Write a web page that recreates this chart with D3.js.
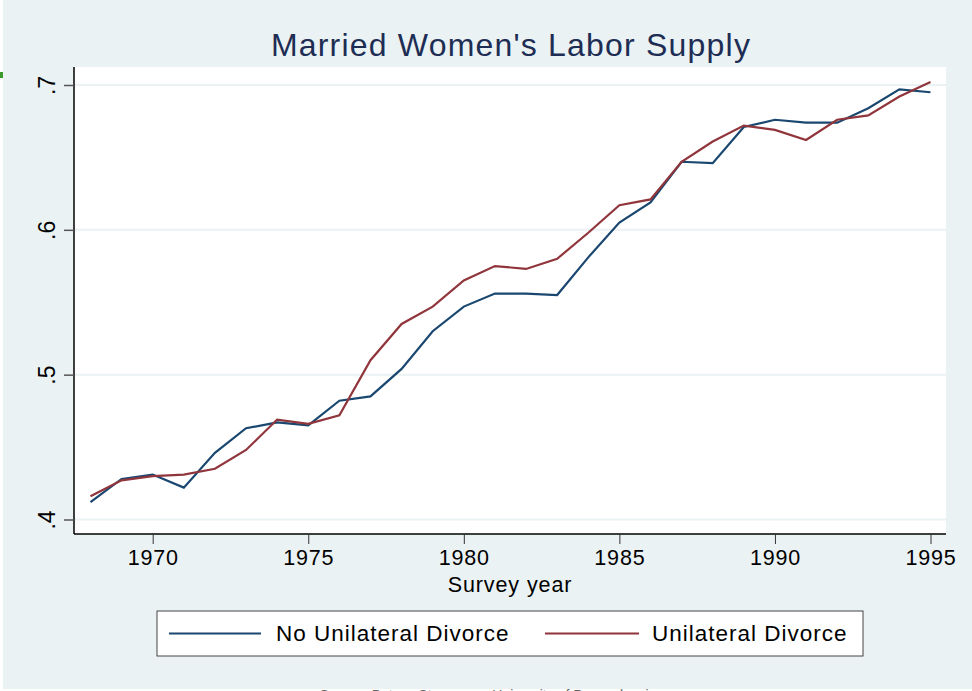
<!DOCTYPE html>
<html>
<head>
    <title>Married Women's Labor Supply</title>
    <script src="https://d3js.org/d3.v7.min.js"></script>
    <style>
        body { margin: 0; background: white; }
        svg { display: block; font-family: "Liberation Sans", Arial, sans-serif; }
    </style>
</head>
<body>
    <svg width="972" height="691"></svg>

    <script>
        // Survey years and the two series (share of married women working)
        const years = [1968, 1969, 1970, 1971, 1972, 1973, 1974, 1975, 1976, 1977, 1978, 1979, 1980, 1981,
                       1982, 1983, 1984, 1985, 1986, 1987, 1988, 1989, 1990, 1991, 1992, 1993, 1994, 1995];
        const noUnilateral = [0.412, 0.428, 0.431, 0.422, 0.446, 0.463, 0.467, 0.465, 0.482, 0.485, 0.504, 0.530, 0.547, 0.556,
                              0.556, 0.555, 0.581, 0.605, 0.619, 0.647, 0.646, 0.671, 0.676, 0.674, 0.674, 0.684, 0.697, 0.695];
        const unilateral = [0.416, 0.427, 0.430, 0.431, 0.435, 0.448, 0.469, 0.466, 0.472, 0.510, 0.535, 0.547, 0.565, 0.575,
                            0.573, 0.580, 0.598, 0.617, 0.621, 0.647, 0.661, 0.672, 0.669, 0.662, 0.676, 0.679, 0.692, 0.702];
        const xTicks = [1970, 1975, 1980, 1985, 1990, 1995];
        const yTicks = [0.4, 0.5, 0.6, 0.7];
        const yTickLabels = [".4", ".5", ".6", ".7"];
        const seriesNames = ["No Unilateral Divorce", "Unilateral Divorce"];

        const bg = "#eaf2f3";
        const blue = "#1a476f";
        const red = "#90353b";

        const svg = d3.select("svg");

        // outer background
        svg.append("rect").attr("x", 3).attr("y", 0).attr("width", 969).attr("height", 689).attr("fill", bg);
        svg.append("rect").attr("x", 0).attr("y", 72).attr("width", 3).attr("height", 6).attr("fill", "#3a9a2a");

        // plot region
        const plot = { left: 74, top: 67, right: 946, bottom: 534 };
        svg.append("rect")
            .attr("x", plot.left).attr("y", plot.top)
            .attr("width", plot.right - plot.left).attr("height", plot.bottom - plot.top)
            .attr("fill", "white");

        const x = d3.scaleLinear().domain([1970, 1995]).range([152.7, 930.5]);
        const y = d3.scaleLinear().domain([0.4, 0.7]).range([519.5, 85]);

        // gridlines
        svg.append("g").selectAll("line").data(yTicks).join("line")
            .attr("x1", plot.left).attr("x2", plot.right)
            .attr("y1", d => y(d)).attr("y2", d => y(d))
            .attr("stroke", bg).attr("stroke-width", 2);

        // series lines
        const line = d3.line().x((d, i) => x(years[i])).y(d => y(d));
        [[noUnilateral, blue], [unilateral, red]].forEach(([vals, col]) => {
            svg.append("path")
                .datum(vals)
                .attr("fill", "none")
                .attr("stroke", col)
                .attr("stroke-width", 2.2)
                .attr("d", line);
        });

        // y axis
        const yAxis = svg.append("g")
            .attr("transform", `translate(${plot.left},0)`)
            .call(d3.axisLeft(y).tickValues(yTicks).tickSize(10).tickFormat((d, i) => yTickLabels[i]));
        yAxis.select(".domain").attr("d", `M0,${plot.top}V${plot.bottom}`).attr("stroke", "black").attr("stroke-width", 1.5);
        yAxis.selectAll(".tick line").attr("stroke", "#555").attr("stroke-width", 1.5);
        yAxis.selectAll(".tick text")
            .attr("x", null).attr("dy", null)
            .attr("transform", "translate(-27,0) rotate(-90)")
            .attr("text-anchor", "middle")
            .attr("dy", "0.35em")
            .attr("font-size", 23)
            .attr("font-family", "Liberation Sans, Arial, sans-serif")
            .attr("fill", "black");

        // x axis
        const xAxis = svg.append("g")
            .attr("transform", `translate(0,${plot.bottom})`)
            .call(d3.axisBottom(x).tickValues(xTicks).tickSize(10).tickFormat(d3.format("d")));
        xAxis.select(".domain").attr("d", `M${plot.left},0H${plot.right}`).attr("stroke", "black").attr("stroke-width", 1.5);
        xAxis.selectAll(".tick line").attr("stroke", "#333").attr("stroke-width", 1);
        xAxis.selectAll(".tick text")
            .attr("y", 16)
            .attr("dy", "0.71em")
            .attr("font-size", 21.5)
            .attr("letter-spacing", 0.8)
            .attr("font-family", "Liberation Sans, Arial, sans-serif")
            .attr("fill", "black");

        // titles
        svg.append("text")
            .attr("x", 511).attr("y", 56)
            .attr("text-anchor", "middle")
            .attr("font-size", 32)
            .attr("letter-spacing", 1.2)
            .attr("fill", "#1e2d53")
            .text("Married Women's Labor Supply");

        svg.append("text")
            .attr("x", 510).attr("y", 592)
            .attr("text-anchor", "middle")
            .attr("font-size", 21.5)
            .attr("letter-spacing", 0.9)
            .attr("fill", "black")
            .text("Survey year");

        // legend
        svg.append("rect")
            .attr("x", 157).attr("y", 611).attr("width", 706).attr("height", 45)
            .attr("fill", "white").attr("stroke", "#444").attr("stroke-width", 1);
        const legendItems = [
            { name: seriesNames[0], color: blue, x1: 169, x2: 261, tx: 276 },
            { name: seriesNames[1], color: red, x1: 545, x2: 639, tx: 652 }
        ];
        legendItems.forEach(d => {
            svg.append("line")
                .attr("x1", d.x1).attr("x2", d.x2).attr("y1", 633.5).attr("y2", 633.5)
                .attr("stroke", d.color).attr("stroke-width", 2);
            svg.append("text")
                .attr("x", d.tx).attr("y", 641)
                .attr("font-size", 22.5)
                .attr("letter-spacing", 1)
                .attr("fill", "black")
                .text(d.name);
        });

        // note at the bottom, mostly cut off by the page edge as in the original
        svg.append("text")
            .attr("x", 488).attr("y", 700)
            .attr("text-anchor", "middle")
            .attr("font-size", 14)
            .attr("fill", "#666")
            .text("Source: Betsey Stevenson, University of Pennsylvania");
    </script>
</body>
</html>
